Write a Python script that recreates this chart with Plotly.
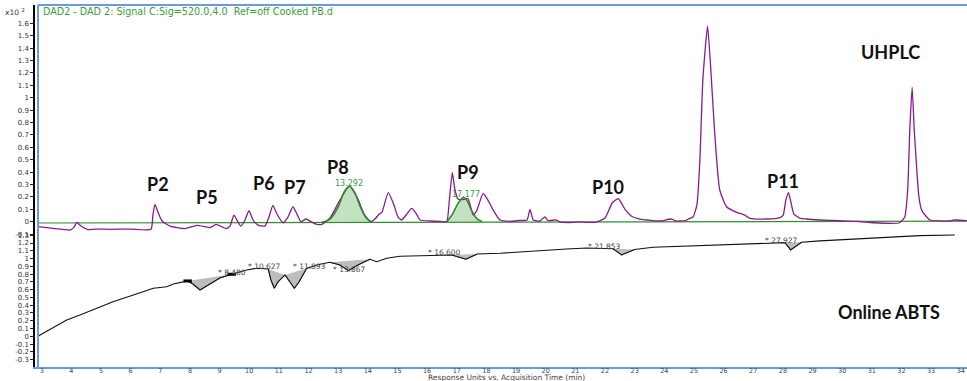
import plotly.graph_objects as go

# ---------------- data ----------------
# UHPLC (DAD 520 nm) trace, time in min, response in x10^2
uv_time = [2.875, 3.449, 3.954, 4.089, 4.19, 4.325, 4.56, 4.80, 5.30, 5.98, 6.685, 6.75, 6.82, 6.92, 7.06,
           7.33, 7.83, 8.24, 8.68, 8.88, 9.22, 9.35, 9.485, 9.62, 9.72, 9.857, 9.99, 10.13, 10.295, 10.53,
           10.665, 10.80, 10.935, 11.138, 11.307, 11.475, 11.61, 11.745, 11.913, 12.08, 12.25, 12.45, 12.724,
           13.06, 13.374, 13.667, 13.87, 14.096, 14.24, 14.386, 14.477, 14.69, 14.88, 15.017, 15.14, 15.287,
           15.48, 15.62, 15.76, 16.095, 16.43, 16.66, 16.75, 16.85, 16.94, 17.04, 17.21, 17.375, 17.556,
           17.68, 17.89, 18.05, 18.23, 18.457, 18.79, 19.13, 19.37, 19.47, 19.58, 19.8, 19.975, 20.075,
           20.37, 20.48, 20.82, 21.155, 21.66, 22.0, 22.24, 22.45, 22.67, 22.91, 23.18, 23.45, 23.85, 24.25,
           24.39, 24.73, 24.81, 24.965, 25.10, 25.20, 25.30, 25.46, 25.57, 25.70, 25.87, 26.10, 26.44, 26.72,
           26.89, 27.45, 27.90, 28.01, 28.10, 28.19, 28.27, 28.37, 28.57, 28.80, 29.245, 29.92, 30.59, 31.05,
           31.94, 32.11, 32.21, 32.28, 32.36, 32.43, 32.51, 32.585, 32.68, 32.82, 32.96, 33.63, 33.8, 34.2]
uv_resp = [-0.040, -0.055, -0.067, -0.043, -0.005, -0.035, -0.063, -0.059, -0.061, -0.059, -0.061, 0.054,
           0.140, 0.078, 0.006, -0.035, -0.055, -0.029, -0.047, -0.021, -0.055, -0.035, 0.054, -0.002, -0.035,
           0.014, 0.089, 0.014, -0.027, -0.035, 0.038, 0.132, 0.062, -0.008, 0.038, 0.121, 0.062, 0.0, 0.022,
           0.002, -0.019, -0.021, 0.030, 0.175, 0.288, 0.183, 0.062, 0.0, 0.022, 0.062, 0.078, 0.234, 0.135,
           0.038, 0.014, 0.054, 0.108, 0.070, 0.014, 0.006, 0.003, 0.0, 0.175, 0.395, 0.256, 0.183, 0.179,
           0.187, 0.054, 0.094, 0.229, 0.175, 0.094, 0.014, 0.003, 0.010, 0.014, 0.100, 0.014, 0.006, 0.040,
           0.010, 0.014, -0.002, -0.006, -0.001, -0.005, 0.030, 0.151, 0.187, 0.102, 0.042, 0.022, 0.014,
           0.006, 0.022, 0.006, 0.010, 0.022, 0.038, 0.135, 0.498, 1.143, 1.578, 1.223, 0.715, 0.256, 0.121,
           0.076, 0.054, 0.027, 0.022, 0.034, 0.054, 0.175, 0.234, 0.159, 0.062, 0.030, 0.022, 0.014, 0.008,
           0.002, -0.008, -0.008, 0.038, 0.256, 0.74, 1.084, 0.74, 0.444, 0.207, 0.094, 0.046, 0.014, 0.006,
           0.014, 0.008]

# integration baseline (green)
base_time = [2.875, 12.0, 20.0, 34.2]
base_resp = [-0.010, -0.006, 0.0, 0.005]

# integrated peaks (green fill)
p8_time = [12.45, 12.72, 13.0, 13.2, 13.374, 13.55, 13.75, 13.95, 14.1]
p8_resp = [-0.004, 0.02, 0.12, 0.24, 0.285, 0.24, 0.12, 0.03, 0.0]
p9_time = [16.66, 16.85, 17.05, 17.22, 17.35, 17.5, 17.7, 17.85]
p9_resp = [0.0, 0.06, 0.15, 0.197, 0.17, 0.09, 0.02, 0.002]

# Online ABTS trace
abts_time = [2.885, 3.28, 3.843, 4.29, 4.966, 5.405, 6.09, 6.764, 7.216, 7.44, 7.924, 8.10, 8.34, 8.676,
             9.01, 9.41, 9.914, 10.25, 10.64, 10.73, 10.845, 10.97, 11.206, 11.374, 11.52, 11.678, 11.94,
             12.386, 12.72, 13.06, 13.34, 13.667, 14.07, 14.30, 14.636, 15.085, 16.21, 16.83, 17.31, 17.69,
             18.457, 19.58, 20.706, 21.38, 22.27, 22.56, 23.0, 23.62, 24.75, 25.875, 27.0, 28.07, 28.26,
             28.63, 29.245, 30.37, 31.5, 32.62, 33.8]
abts_resp = [0.004, 0.09, 0.21, 0.274, 0.373, 0.445, 0.532, 0.618, 0.638, 0.673, 0.712, 0.673, 0.596,
             0.673, 0.75, 0.798, 0.853, 0.875, 0.866, 0.725, 0.618, 0.699, 0.789, 0.699, 0.618, 0.699, 0.875,
             0.927, 0.952, 0.918, 0.844, 0.918, 0.991, 0.96, 1.004, 1.03, 1.046, 1.046, 0.991, 1.059, 1.068,
             1.098, 1.124, 1.135, 1.127, 1.046, 1.117, 1.145, 1.162, 1.179, 1.197, 1.205, 1.111, 1.21, 1.227,
             1.252, 1.274, 1.295, 1.304]
# integrated ABTS troughs (start index, end index in the ABTS arrays)
trough_ranges = [(10, 15), (18, 22), (22, 26), (28, 32), (37, 39), (44, 46), (51, 53)]
trough_labels = ["* 8.480", "* 10.627", "* 11.893", "* 13.867", "* 16.600", "* 21.853", "* 27.927"]
trough_label_time = [9.42, 10.53, 12.02, 13.37, 16.60, 21.99, 27.96]
trough_label_resp = [0.824, 0.896, 0.896, 0.862, 1.076, 1.153, 1.23]

peak_names = ["P2", "P5", "P6", "P7", "P8", "P9", "P10", "P11"]
peak_label_time = [6.93, 8.57, 10.51, 11.54, 13.0, 17.39, 22.11, 28.01]
peak_label_resp = [0.302, 0.202, 0.315, 0.282, 0.444, 0.403, 0.282, 0.328]

rt_labels = ["13.292", "17.177"]
rt_label_time = [13.374, 17.30]
rt_label_resp = [0.31, 0.221]

x_ticks = list(range(3, 35))
top_ticks = [-0.1, 0, 0.1, 0.2, 0.3, 0.4, 0.5, 0.6, 0.7, 0.8, 0.9, 1, 1.1, 1.2, 1.3, 1.4, 1.5, 1.6]
top_tick_text = ["-0.1", "0", "0.1", "0.2", "0.3", "0.4", "0.5", "0.6", "0.7", "0.8", "0.9", "1",
                 "1.1", "1.2", "1.3", "1.4", "1.5", "1.6"]
bot_ticks = [-0.3, -0.2, -0.1, 0, 0.1, 0.2, 0.3, 0.4, 0.5, 0.6, 0.7, 0.8, 0.9, 1, 1.1, 1.2, 1.3]
bot_tick_text = ["-0.3", "-0.2", "-0.1", "0", "0.1", "0.2", "0.3", "0.4", "0.5", "0.6", "0.7", "0.8",
                 "0.9", "1", "1.1", "1.2", "1.3"]

# ---------------- styling ----------------
PURPLE = "#8c1a8c"
GREEN = "#2f8f2f"
GREEN_FILL = "rgba(120,190,120,0.45)"
BLUE = "#6d9ade"
SANS = "DejaVu Sans"
TICKFONT = dict(family=SANS, size=7, color="#333333")
BOLD = dict(family="Lato", size=18, color="#111111", weight="bold")

fig = go.Figure()

# green integrated peaks (fill) in top panel
for tx, ty in [(p8_time, p8_resp), (p9_time, p9_resp)]:
    fig.add_trace(go.Scatter(x=tx, y=ty, mode="lines", fill="tozeroy", fillcolor=GREEN_FILL,
                             line=dict(color=GREEN, width=1.3, shape="spline", smoothing=0.8),
                             xaxis="x", yaxis="y", hoverinfo="skip", showlegend=False))

# baseline
fig.add_trace(go.Scatter(x=base_time, y=base_resp, mode="lines", line=dict(color=GREEN, width=1.2),
                         xaxis="x", yaxis="y", showlegend=False))

# UHPLC trace
fig.add_trace(go.Scatter(x=uv_time, y=uv_resp, mode="lines",
                         line=dict(color=PURPLE, width=1.3, shape="spline", smoothing=0.5),
                         xaxis="x", yaxis="y", showlegend=False))

# redraw green peak outlines on top
for tx, ty in [(p8_time, p8_resp), (p9_time, p9_resp)]:
    fig.add_trace(go.Scatter(x=tx, y=ty, mode="lines",
                             line=dict(color=GREEN, width=1.3, shape="spline", smoothing=0.8),
                             xaxis="x", yaxis="y", hoverinfo="skip", showlegend=False))

# ABTS trough fills
for s, e in trough_ranges:
    fig.add_trace(go.Scatter(x=abts_time[s:e + 1], y=abts_resp[s:e + 1], mode="lines", fill="toself",
                             fillcolor="#bdbdbd", line=dict(color="#555555", width=0.8),
                             xaxis="x", yaxis="y2", hoverinfo="skip", showlegend=False))

# ABTS trace
fig.add_trace(go.Scatter(x=abts_time, y=abts_resp, mode="lines", line=dict(color="#111111", width=1.1),
                         xaxis="x", yaxis="y2", showlegend=False))

# integration markers at the first trough
s0, e0 = trough_ranges[0]
fig.add_trace(go.Scatter(x=[abts_time[s0], abts_time[e0]], y=[abts_resp[s0], abts_resp[e0]], mode="markers",
                         marker=dict(symbol="line-ew-open", size=6, color="black",
                                     line=dict(color="black", width=3)),
                         xaxis="x", yaxis="y2", showlegend=False))

annotations = []
for name, tx, ty in zip(peak_names, peak_label_time, peak_label_resp):
    annotations.append(dict(x=tx, y=ty, xref="x", yref="y", text=name, showarrow=False, font=BOLD))
annotations.append(dict(x=31.63, y=1.371, xref="x", yref="y", text="UHPLC", showarrow=False, font=BOLD))
annotations.append(dict(x=31.59, y=0.317, xref="x", yref="y2", text="Online ABTS", showarrow=False, font=BOLD))
for txt, tx, ty in zip(rt_labels, rt_label_time, rt_label_resp):
    annotations.append(dict(x=tx, y=ty, xref="x", yref="y", text=txt, showarrow=False,
                            font=dict(family=SANS, size=8, color="#3c9c3c")))
for txt, tx, ty in zip(trough_labels, trough_label_time, trough_label_resp):
    annotations.append(dict(x=tx, y=ty, xref="x", yref="y2", text=txt, showarrow=False,
                            font=dict(family=SANS, size=7.5, color="#444444")))

annotations.append(dict(x=0.0064, y=0.9834, xref="paper", yref="paper", xanchor="left", yanchor="middle",
                        text="DAD2 - DAD 2: Signal C:Sig=520.0,4.0  Ref=off Cooked PB.d", showarrow=False,
                        font=dict(family=SANS, size=9.6, color="#3a9e3a")))
annotations.append(dict(x=-0.0215, y=0.9807, xref="paper", yref="paper", xanchor="center", yanchor="middle",
                        text="x10 <sup>2</sup>", showarrow=False,
                        font=dict(family=SANS, size=7.5, color="#333333")))
annotations.append(dict(x=0.506, y=-0.0295, xref="paper", yref="paper", xanchor="center", yanchor="middle",
                        text="Response Units vs. Acquisition Time (min)", showarrow=False,
                        font=dict(family=SANS, size=7.5, color="#444444")))

x_left_blue = 3.0 / 932.0
shapes = [
    dict(type="line", xref="paper", yref="paper", x0=x_left_blue, x1=x_left_blue, y0=0, y1=1,
         line=dict(color=BLUE, width=2)),
    dict(type="line", xref="paper", yref="paper", x0=x_left_blue, x1=1, y0=1, y1=1,
         line=dict(color=BLUE, width=2)),
]

fig.update_layout(
    width=967, height=381,
    margin=dict(l=35, r=0, t=5, b=14),
    paper_bgcolor="white", plot_bgcolor="white",
    showlegend=False,
    xaxis=dict(range=[2.774, 34.21], anchor="y2", tickvals=x_ticks, ticktext=[str(v) for v in x_ticks],
               tickfont=dict(family=SANS, size=6.5, color="#444444"),
               showline=True, linecolor=BLUE, linewidth=2, ticks="", ticklabelstandoff=-4,
               showgrid=False, zeroline=False),
    yaxis=dict(domain=[0.3646, 1], range=[-0.107, 1.7476], anchor="x", tickvals=top_ticks,
               ticktext=top_tick_text, tickfont=TICKFONT, ticks="outside", ticklen=3, tickcolor="#222222",
               showline=True, linecolor="black", linewidth=1.5, showgrid=False, zeroline=False),
    yaxis2=dict(domain=[0, 0.3702], range=[-0.395, 1.329], anchor="x", tickvals=bot_ticks,
                ticktext=bot_tick_text, tickfont=TICKFONT, ticks="outside", ticklen=3, tickcolor="#222222",
                showline=True, linecolor="black", linewidth=1.5, showgrid=False, zeroline=False),
    annotations=annotations,
    shapes=shapes,
)

fig.write_html("out.html")
